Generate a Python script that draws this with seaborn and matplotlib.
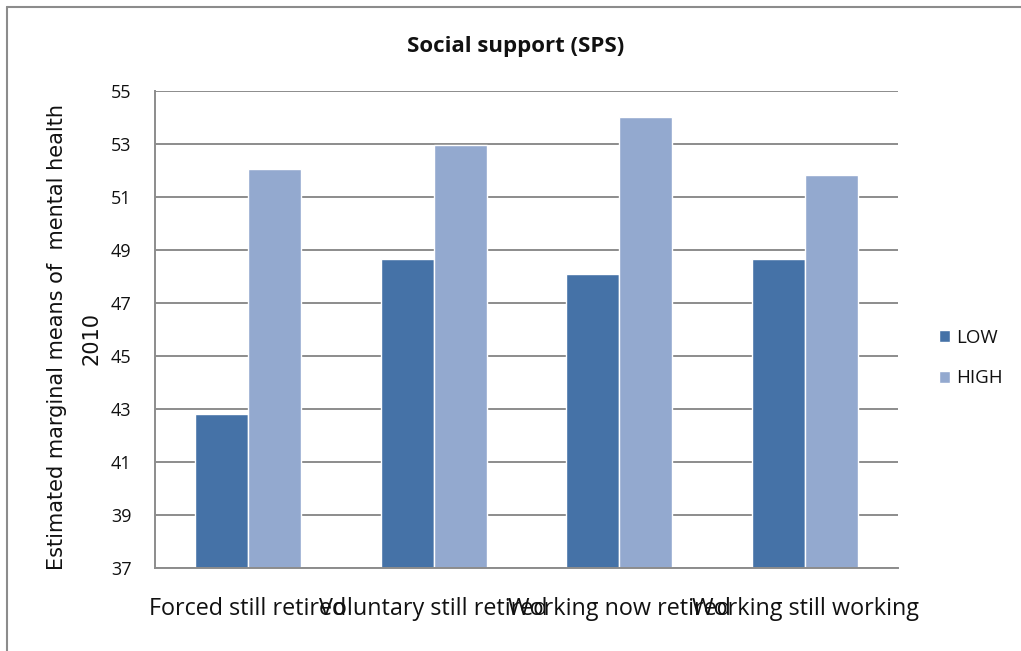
import matplotlib
matplotlib.use("Agg")
import matplotlib.pyplot as plt
import seaborn as sns
import pandas as pd

# Chart data
groups = ["Forced still retired", "Voluntary still retired",
          "Working now retired", "Working still working"]
support_levels = ["LOW", "HIGH"]
low_means = [42.8, 48.65, 48.1, 48.67]
high_means = [52.05, 52.97, 54.02, 51.82]
y_ticks = [37, 39, 41, 43, 45, 47, 49, 51, 53, 55]

df = pd.DataFrame({
    "group": groups * 2,
    "support": ["LOW"] * len(groups) + ["HIGH"] * len(groups),
    "mean": low_means + high_means,
})

sns.set_style("white")
plt.rcParams["font.family"] = ["Open Sans", "DejaVu Sans"]

fig = plt.figure(figsize=(10.21, 6.51), dpi=100)
ax = fig.add_axes([155 / 1021, 83 / 651, 743 / 1021, 477 / 651])

sns.barplot(data=df, x="group", y="mean", hue="support", hue_order=support_levels,
            palette={"LOW": "#4572A7", "HIGH": "#93A9CF"}, saturation=1,
            width=0.57, ax=ax, legend=True)

ax.set_ylim(37, 55)
ax.set_xlim(-0.5, 3.5)
ax.set_yticks(y_ticks)
ax.set_yticklabels([str(t) for t in y_ticks], fontsize=13, color="#111111")
ax.yaxis.grid(True, color="#8c8c8c", linewidth=1.4)
ax.set_axisbelow(True)

# x ticks between the groups, labels at the group centres
ax.set_xticks([-0.5, 0.5, 1.5, 2.5, 3.5], minor=True)
ax.tick_params(axis="x", which="minor", length=8, width=1.2, color="#8c8c8c", direction="out")
ax.tick_params(axis="x", which="major", length=0, pad=21)
ax.set_xticklabels(groups, fontsize=16.8, color="#111111")
ax.tick_params(axis="y", length=7, width=1.2, color="#8c8c8c", direction="out", pad=10)

for side in ["top", "right"]:
    ax.spines[side].set_visible(False)
for side in ["left", "bottom"]:
    ax.spines[side].set_color("#8c8c8c")
    ax.spines[side].set_linewidth(1.4)

ax.set_xlabel("")
ax.set_ylabel("")

# two-line y label, drawn as two texts to get the wide line gap of the reference
fig.text(57 / 1021, 0.482, "Estimated marginal means of  mental health", rotation=90,
         ha="center", va="center", fontsize=15, family="DejaVu Sans", color="#111111")
fig.text(91 / 1021, 0.48, "2010", rotation=90, ha="center", va="center",
         fontsize=15, family="DejaVu Sans", color="#111111")

fig.text(0.505, 0.928, "Social support (SPS)", ha="center", va="center",
         fontsize=16, fontweight="bold", color="#111111")

leg = ax.legend(loc="center left", bbox_to_anchor=(0.9197, 0.45),
                bbox_transform=fig.transFigure, frameon=False, borderpad=0,
                borderaxespad=0, fontsize=13.5, handlelength=0.59, handleheight=0.59,
                labelspacing=1.2, handletextpad=0.3)
for t in leg.get_texts():
    t.set_color("#111111")

# outer chart border (only top and left visible in the reference)
fig.add_artist(plt.Line2D([7 / 1021, 7 / 1021], [0, 1 - 7 / 651], transform=fig.transFigure,
                          color="#8c8c8c", linewidth=1.5))
fig.add_artist(plt.Line2D([7 / 1021, 1], [1 - 7 / 651, 1 - 7 / 651], transform=fig.transFigure,
                          color="#8c8c8c", linewidth=1.5))

fig.savefig("out.png", dpi=100)
